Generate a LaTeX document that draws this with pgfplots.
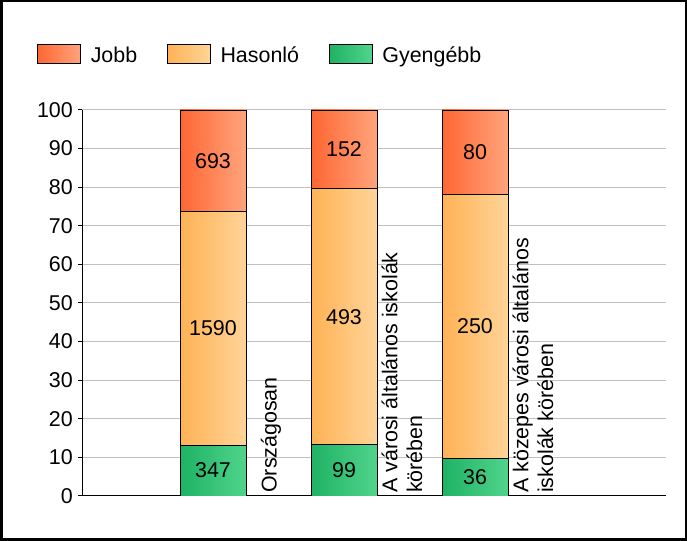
\documentclass[border=0pt]{standalone}
\usepackage{fontspec}
\setmainfont{Liberation Sans}
\usepackage{pgfplots}
\usepackage{pgfplotstable}
\pgfplotsset{compat=1.18}

\definecolor{gyL}{RGB}{30,178,100}
\definecolor{gyR}{RGB}{80,212,140}
\definecolor{haL}{RGB}{255,178,85}
\definecolor{haR}{RGB}{255,212,152}
\definecolor{joL}{RGB}{255,102,51}
\definecolor{joR}{RGB}{255,164,124}
\definecolor{gridgray}{RGB}{192,192,192}

% percent of the category total, and the count shown in the bar
\pgfplotstableread{
x pct n
1 13.194 347
2 13.306 99
3 9.836 36
}\gyengebb
\pgfplotstableread{
x pct n
1 60.456 1590
2 66.263 493
3 68.306 250
}\hasonlo
\pgfplotstableread{
x pct n
1 26.350 693
2 20.430 152
3 21.858 80
}\jobb

% one axis per category, so that every bar gets its own gradient
\pgfplotsset{
    base/.style={
        at={(82bp,45bp)}, anchor=south west,
        scale only axis, width=584bp, height=386bp,
        ybar stacked, bar width=66bp,
        xmin=0, xmax=4.458, ymin=0, ymax=100,
        nodes near coords,
        point meta=explicit symbolic,
        every node near coord/.append style={anchor=center, black},
    },
    seg/.style 2 args={draw=black, line width=0.8bp, left color=#1, right color=#2},
}

\newcommand{\bars}[1]{%
\addplot[seg={gyL}{gyR}, restrict expr to domain={\coordindex}{#1:#1}]
    table[x=x, y=pct, meta=n] {\gyengebb};
\addplot[seg={haL}{haR}, restrict expr to domain={\coordindex}{#1:#1}]
    table[x=x, y=pct, meta=n] {\hasonlo};
\addplot[seg={joL}{joR}, restrict expr to domain={\coordindex}{#1:#1}]
    table[x=x, y=pct, meta=n] {\jobb};
}

\begin{document}
\fontsize{21.5}{25}\selectfont
\begin{tikzpicture}[x=1bp,y=1bp]
\draw[line width=2.5bp] (1.25,1.25) rectangle (685.75,539.75);
\begin{axis}[
    base,
    axis x line=bottom, axis y line=left,
    axis line style={-, black, line width=1bp},
    ytick={0,10,...,100},
    ymajorgrids, grid style={gridgray, line width=1bp},
    tick align=outside, major tick length=4bp,
    ytick style={black, line width=1bp},
    xtick style={draw=none},
    /pgf/number format/assume math mode=true,
    yticklabel style={inner sep=0pt, xshift=-5bp},
    xtick={1,2,3},
    xticklabels={Országosan, {A városi általános iskolák\\körében}, {A közepes városi általános\\iskolák körében}},
    xticklabel style={align=left, inner sep=0pt, xshift=58bp, yshift=7bp, rotate=90, anchor=west},
    reverse legend,
    legend columns=3,
    legend style={at={(-0.0771,1.1425)}, anchor=west, draw=none, fill=none,
        inner sep=0pt, outer sep=0pt, nodes={inner sep=0pt, anchor=base west},
        /tikz/every odd column/.append style={column sep=10bp},
        /tikz/every even column/.append style={column sep=29.5bp}},
    legend image code/.code={\draw[#1] (0bp,-1.5bp) rectangle (43bp,17.5bp);},
]
\bars{0}
\legend{Gyengébb, Hasonló, Jobb}
\end{axis}
\begin{axis}[base, hide axis]
\bars{1}
\end{axis}
\begin{axis}[base, hide axis]
\bars{2}
\end{axis}
\end{tikzpicture}
\end{document}
